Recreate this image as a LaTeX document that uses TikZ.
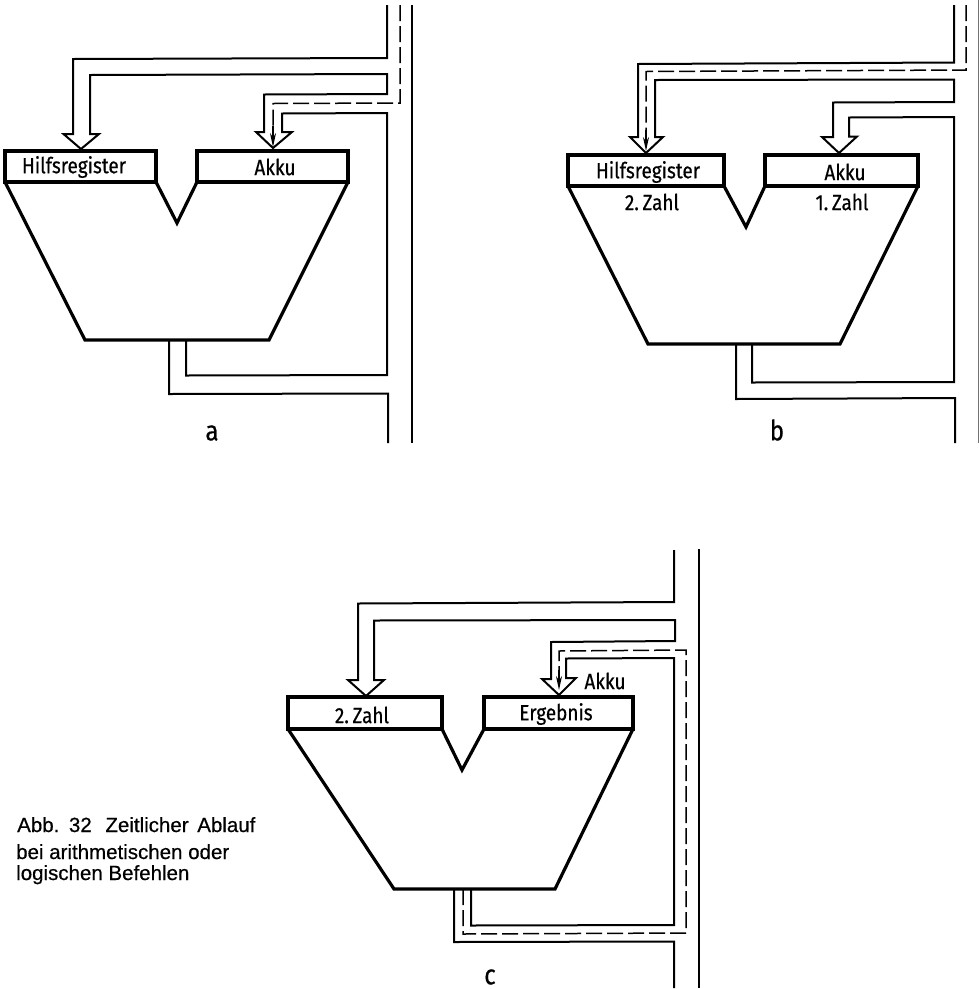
\documentclass[tikz,border=0pt]{standalone}
\usepackage{fontspec}
\setmainfont{Liberation Sans}
\newfontfamily\capfont[FakeBold=0.5]{Liberation Sans}
\newfontfamily\din[FakeStretch=0.86,FakeBold=0.5]{Fira Sans}
\usetikzlibrary{arrows.meta}
\tikzset{
 bus/.style={line width=2pt,line join=miter,black},
 reg/.style={line width=3.2pt,black},
 alu/.style={line width=3.2pt,line join=miter,black},
 sig/.style={line width=1.5pt,dash pattern=on 16pt off 5pt,black},
 sigtip/.style={line width=1.5pt,black,-{Stealth[length=14pt,width=6pt]}},
 lbl/.style={font=\din\fontsize{22}{24}\selectfont,inner sep=0pt,anchor=center},
 bigl/.style={font=\din\fontsize{28}{28}\selectfont,inner sep=0pt,anchor=center},
 captext/.style={font=\capfont\fontsize{20.5}{24}\selectfont,inner sep=0pt,anchor=base west}
}
\begin{document}
\begin{tikzpicture}[x=1pt,y=-1pt]
\useasboundingbox (0,0) rectangle (979,989);
\fill[white] (0,0) rectangle (979,989);
% panel a
\draw[bus] (387,5)--(387,58)--(73,59)--(73,134)--(63.5,134)--(81,149)--(99,134)--(90,134)--(90,75)--(387,74)--(387,94)--(264,94.5)--(264,132)--(256,132)--(273,148)--(292,132)--(282,132)--(282,113.5)--(387,113)--(387,375)--(186,375.5)--(186,340);
\draw[bus] (169,340)--(169,394)--(388,393.5)--(388,443);
\draw[bus] (412,5)--(412,443);
\draw[sig] (400,5)--(400,103)--(273,103.5)--(273,128);
\draw[sigtip] (273,126)--(273,147);
\draw[reg] (5,151) rectangle (156,182);
\draw[reg] (197,151) rectangle (348,182);
\draw[alu] (5,182)--(85,340)--(269,340)--(348,182);
\draw[alu] (156,182)--(177,223)--(197,182);
\node[lbl] (a1) at (74,167) {Hilfsregister};
\node[lbl] (a2) at (275,167) {Akku};
\node[bigl] (a3) at (212,433) {a};
% panel b
\draw[bus] (954,5)--(954,62.5)--(638,64)--(638,137)--(630,137)--(646,153)--(663,137)--(655,137)--(655,80)--(954,79.5)--(954,102)--(833,102.5)--(833,137)--(822,137)--(839,153)--(857,136.5)--(849,136.5)--(849,117.5)--(954,117)--(954,382)--(752,382.5)--(752,344);
\draw[bus] (736,344)--(736,399)--(955,398)--(955,443);
\draw[line width=1pt,black!55] (978.6,0)--(978.6,443);
\draw[sig] (966,5)--(966,70)--(646,71.5)--(646,132);
\draw[sigtip] (646,130)--(646,151);
\draw[reg] (568,155) rectangle (724,186);
\draw[reg] (765,155) rectangle (918,186);
\draw[alu] (568,186)--(648,344)--(840,344)--(918,186);
\draw[alu] (724,186)--(746,227)--(765,186);
\node[lbl] (b1) at (648,172) {Hilfsregister};
\node[lbl] (b2) at (845,172) {Akku};
\node[lbl] (b3) at (652,202) {2.\,Zahl};
\node[lbl] (b4) at (842,202) {1.\,Zahl};
\node[bigl] (b5) at (777,430) {b};
% panel c
\draw[bus] (674,550)--(674,602)--(358,603.5)--(358,680)--(348,680)--(366,696)--(384,680)--(374,680)--(374,620.5)--(675,620)--(675,641)--(551,642)--(551,679)--(542,679)--(559,695)--(576,678)--(566,678)--(566,658.5)--(674,658)--(674,925)--(471,925.5)--(471,889);
\draw[bus] (454,889)--(454,942)--(674,941.5)--(674,988);
\draw[bus] (698.5,549)--(698.5,988);
\draw[sig] (463,889)--(463,934)--(686,933)--(686,650)--(559,651)--(559,672);
\draw[sigtip] (559,670)--(559,690);
\draw[reg] (288,697) rectangle (442,729);
\draw[reg] (484,697) rectangle (633,729);
\draw[alu] (288,729)--(394,889)--(555,889)--(633,729);
\draw[alu] (442,729)--(462,770)--(484,729);
\node[lbl] (c1) at (362,715) {2.\,Zahl};
\node[lbl] (c2) at (556,714) {Ergebnis};
\node[lbl] (c3) at (605,681) {Akku};
\node[bigl] (c4) at (490,977) {c};
% caption
\node[captext] (t1) at (17,832) {Abb.\hspace{2pt} 32\hspace{8pt} Zeitlicher\hspace{3pt} Ablauf};
\node[captext] (t2) at (16,859) {bei arithmetischen oder};
\node[captext] (t3) at (16,880) {logischen Befehlen};
\end{tikzpicture}
\end{document}
